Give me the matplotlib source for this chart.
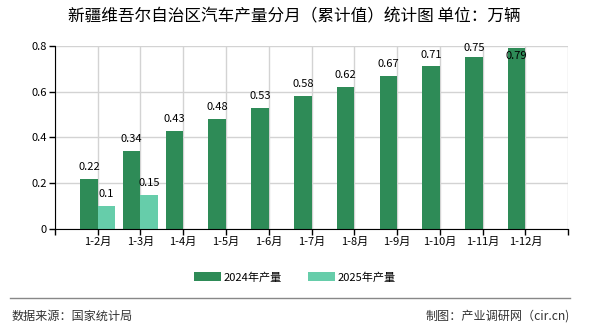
import matplotlib.pyplot as plt
import numpy as np

plt.rcParams['font.family'] = ['Noto Sans CJK SC', 'DejaVu Sans']

months = ['1-2月', '1-3月', '1-4月', '1-5月', '1-6月', '1-7月', '1-8月',
          '1-9月', '1-10月', '1-11月', '1-12月']
prod_2024 = [0.22, 0.34, 0.43, 0.48, 0.53, 0.58, 0.62, 0.67, 0.71, 0.75, 0.79]
prod_2025 = [0.1, 0.15]

c24 = '#2e8b57'
c25 = '#66cdaa'

fig = plt.figure(figsize=(5.9, 3.3), dpi=100)
ax = fig.add_axes([0.093, 0.306, 0.87, 0.555])

x = np.arange(len(months))
w = 0.41
ax.bar(x - w / 2, prod_2024, w, color=c24, label='2024年产量', zorder=2)
ax.bar(x[:len(prod_2025)] + w / 2, prod_2025, w, color=c25, label='2025年产量', zorder=2)

def lab_y(v):
    y = v + 0.052
    if y > 0.82:
        return 0.756
    return min(y, 0.79)

for i, v in enumerate(prod_2024):
    ax.text(x[i] - w / 2, lab_y(v), str(v), ha='center', va='center', fontsize=8, zorder=3)
for i, v in enumerate(prod_2025):
    ax.text(x[i] + w / 2, lab_y(v), str(v), ha='center', va='center', fontsize=8, zorder=3)

ax.set_xlim(-1, len(months))
ax.set_ylim(0, 0.8)
ax.set_xticks(np.arange(-1, len(months) + 1))
ax.set_xticklabels([''] + months + [''], fontsize=8)
ax.set_yticks([0, 0.2, 0.4, 0.6, 0.8])
ax.set_yticklabels(['0', '0.2', '0.4', '0.6', '0.8'], fontsize=8)
ax.grid(True, color='#d3d3d3', linewidth=1, zorder=0)
ax.spines['top'].set_visible(False)
ax.spines['right'].set_visible(False)
ax.tick_params(axis='both', length=4, width=1, direction='out', pad=2)

fig.text(0.498, 0.950, '新疆维吾尔自治区汽车产量分月（累计值）统计图 单位：万辆',
         ha='center', va='center', fontsize=12)

fig.legend(loc='center', bbox_to_anchor=(0.5, 0.16), ncol=2, frameon=False,
           fontsize=8, handlelength=2.4, handleheight=0.8, columnspacing=2.3,
           handletextpad=0.3)

fig.add_artist(plt.Line2D([0.017, 0.966], [0.097, 0.097], color='#888888', linewidth=1))
fig.text(0.02, 0.042, '数据来源：国家统计局', ha='left', va='center', fontsize=8.7, color='#333333')
fig.text(0.966, 0.042, '制图：产业调研网（cir.cn)', ha='right', va='center', fontsize=8.7, color='#333333')

fig.savefig('out.png', dpi=100)
